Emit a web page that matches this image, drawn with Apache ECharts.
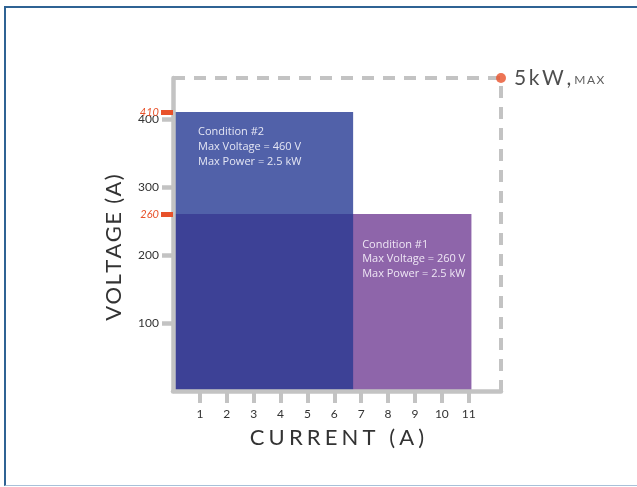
<!DOCTYPE html>
<html>
<head>
<meta charset="utf-8">
<script src="https://cdn.jsdelivr.net/npm/echarts@6/dist/echarts.min.js"></script>
<style>
  html, body { margin: 0; padding: 0; background: #fff; }
  #frame { position: absolute; left: 4px; top: 6px; width: 700px; height: 480px;
           border-top: 2px solid #2f6394; border-left: 2px solid #2f6394; border-bottom: 1px solid #a8c0d8; box-sizing: border-box; }
  #chart { position: absolute; left: 0; top: 0; width: 637px; height: 487px; }
</style>
</head>
<body>
<div id="frame"></div>
<div id="chart"></div>
<script>
// ---- data ----
const conditionNames = ['Condition #1', 'Condition #2'];
const conditionCurrent = [11.1, 6.7];      // A (right edge of each block)
const conditionVoltage = [260, 410];       // V (top of each block)
const conditionMaxVoltage = [260, 460];    // V (text)
const conditionMaxPower = [2.5, 2.5];      // kW (text)
const envelopeCorner = [12.2, 460];        // 5 kW max point
const xTicks = [1, 2, 3, 4, 5, 6, 7, 8, 9, 10, 11];
const yTicks = [100, 200, 300, 400];
const markedVoltages = [260, 410];

const GRAY = '#c3c3c3';
const RED = '#e8512a';
const sp = (s, g) => s.split('').join(g);

const chart = echarts.init(document.getElementById('chart'));

// blocks: [current, voltage, kind]
const blocks = [
  [conditionCurrent[1], conditionVoltage[1], 0],  // condition #2 (light blue)
  [conditionCurrent[0], conditionVoltage[0], 1],  // condition #1 (purple)
  [Math.min(...conditionCurrent), Math.min(...conditionVoltage), 2] // overlap (dark blue)
];
const blockColors = ['#5161a9', '#8e65aa', '#3d4196'];

function condText(i) {
  return [conditionNames[i],
          'Max Voltage = ' + conditionMaxVoltage[i] + ' V',
          'Max Power = ' + conditionMaxPower[i] + ' kW'].join('\n');
}

chart.setOption({
  animation: false,
  grid: { left: 173, right: 136, top: 78, bottom: 96 },
  xAxis: {
    type: 'value', min: 0, max: envelopeCorner[0], z: 5,
    splitLine: { show: false },
    axisLine: { show: true, lineStyle: { color: GRAY, width: 4.5 } },
    axisTick: { show: true, customValues: xTicks, length: 12, lineStyle: { color: GRAY, width: 4 } },
    axisLabel: { customValues: xTicks, margin: 17, fontSize: 12, color: '#333', fontFamily: 'Lato' },
    name: sp('CURRENT (A)', '\u2009\u200A'), nameLocation: 'middle', nameGap: 36,
    nameTextStyle: { fontSize: 22, color: '#333', fontFamily: 'Lato' }
  },
  yAxis: [{
    type: 'value', min: 0, max: envelopeCorner[1], z: 5,
    splitLine: { show: false },
    axisLine: { show: true, lineStyle: { color: GRAY, width: 4.5 } },
    axisTick: { show: true, customValues: yTicks, length: 11, lineStyle: { color: GRAY, width: 4.5 } },
    axisLabel: { customValues: yTicks, margin: 14, fontSize: 12, color: '#333', fontFamily: 'Lato' },
    name: sp('VOLTAGE (A)', '\u200A'), nameLocation: 'middle', nameGap: 48,
    nameTextStyle: { fontSize: 22, color: '#333', fontFamily: 'Lato', padding: [0, 26, 0, 0] }
  }, {
    type: 'value', min: 0, max: envelopeCorner[1], position: 'left', z: 6,
    splitLine: { show: false },
    axisLine: { show: false },
    axisTick: { show: true, customValues: markedVoltages, length: 12, lineStyle: { color: RED, width: 5 } },
    axisLabel: { customValues: markedVoltages, margin: 14, fontSize: 11, fontStyle: 'italic', color: RED, fontFamily: 'Lato' }
  }],
  series: [{
    type: 'custom', z: 2,
    data: blocks,
    renderItem: function (params, api) {
      const k = api.value(2);
      const p0 = api.coord([0, 0]);
      const p1 = api.coord([api.value(0), api.value(1)]);
      const children = [{
        type: 'rect',
        shape: { x: p0[0], y: p1[1], width: p1[0] - p0[0], height: p0[1] - p1[1] },
        style: { fill: blockColors[k] }
      }];
      if (k === 0) {
        children.push({ type: 'text', z2: 10, style: {
          text: condText(1), x: p0[0] + 25, y: p1[1] + 13, fill: '#e4e6f4',
          fontSize: 11, fontFamily: 'Open Sans', lineHeight: 14.6, verticalAlign: 'top', align: 'left' } });
      } else if (k === 1) {
        const a = api.coord([Math.min(...conditionCurrent), api.value(1)]);
        children.push({ type: 'text', z2: 10, style: {
          text: condText(0), x: a[0] + 9, y: a[1] + 23, fill: '#eee6f4',
          fontSize: 11, fontFamily: 'Open Sans', lineHeight: 14.6, verticalAlign: 'top', align: 'left' } });
      }
      return { type: 'group', children: children };
    }
  }, {
    type: 'line', z: 4, symbol: 'none', silent: true,
    data: [[0, envelopeCorner[1]], envelopeCorner, [envelopeCorner[0], 0]],
    lineStyle: { color: GRAY, width: 4, type: [12, 9] }
  }, {
    type: 'scatter', z: 7, symbolSize: 10,
    itemStyle: { color: RED },
    data: [envelopeCorner],
    label: {
      show: true, position: 'right', distance: 8,
      formatter: '{a|' + sp('5kW,', '\u2009') + '}{b| ' + sp('MAX', '\u2009') + '}',
      rich: {
        a: { fontSize: 21, color: '#222', fontFamily: 'Lato' },
        b: { fontSize: 12, color: '#333', fontFamily: 'Lato', padding: [4, 0, 0, 0] }
      }
    }
  }]
});
</script>
</body>
</html>
